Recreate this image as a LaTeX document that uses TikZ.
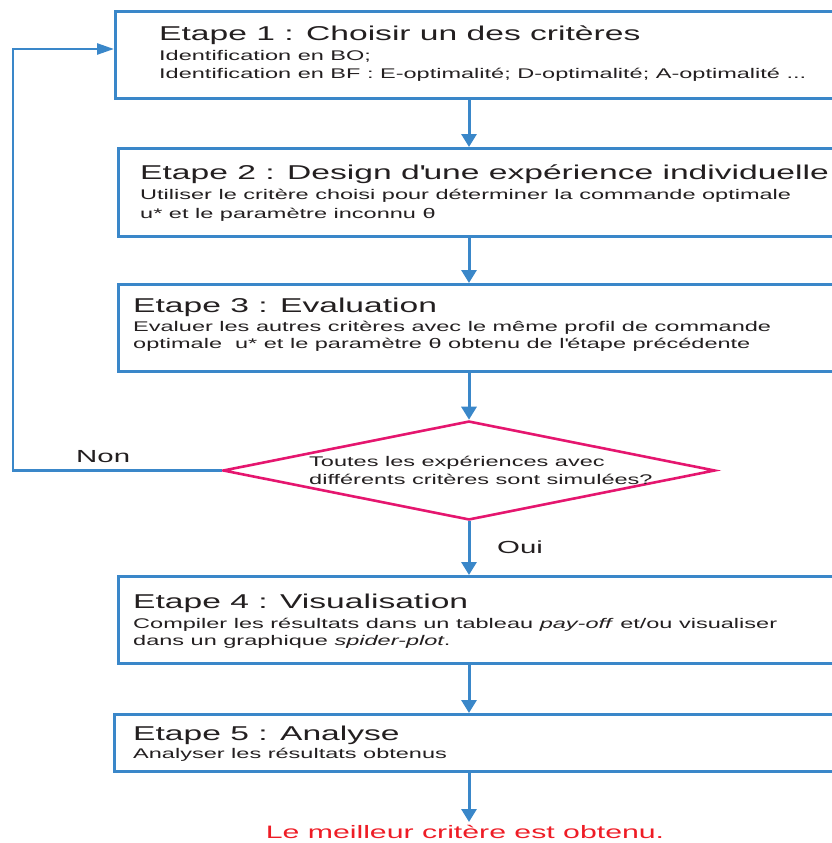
\documentclass[tikz,border=0pt]{standalone}
\usepackage{fontspec}
\setmainfont{Liberation Sans}[FakeStretch=1.68]
\usetikzlibrary{shapes.geometric,arrows.meta}
\definecolor{bl}{HTML}{3A87C9}
\definecolor{mg}{HTML}{E5166F}
\definecolor{rd}{HTML}{EE1C25}
\definecolor{tx}{HTML}{231F20}
\tikzset{
  box/.style={draw=bl, line width=3pt, anchor=north west, inner sep=0pt, minimum width=760pt},
  ttl/.style={anchor=base west, inner sep=0pt, text=tx, font=\fontsize{20}{24}\selectfont},
  sub/.style={anchor=base west, inner sep=0pt, text=tx, font=\fontsize{14}{17}\selectfont},
  lbl/.style={anchor=base west, inner sep=0pt, text=tx, font=\fontsize{17.5}{21}\selectfont},
  arr/.style={draw=bl, line width=3pt, -{Triangle[length=13pt,width=15pt]}},
  looparr/.style={draw=bl, line width=2.6pt, -{Triangle[length=17pt,width=11pt]}},
}
\begin{document}
\begin{tikzpicture}[x=1pt,y=-1pt]
\useasboundingbox (0,0) rectangle (832,843);
\clip (0,0) rectangle (832,843);
\coordinate (cx) at (469,0);
% boxes
\node[box, minimum height=86.5pt] (b1) at (114,10.5) {};
\node[box, minimum height=88pt] (b2) at (117,147) {};
\node[box, minimum height=87pt] (b3) at (117,283) {};
\node[box, minimum height=87pt] (b4) at (117,575) {};
\node[box, minimum height=57pt] (b5) at (113,713) {};
\node[draw=mg, line width=2.6pt, diamond, inner sep=0pt, minimum width=492pt, minimum height=99pt] (d) at (469,470.5) {};
% texts
\node[ttl] (t1) at (159,41) {Etape 1 : Choisir un des critères};
\node[sub] (s1a) at (159,61) {Identification en BO;};
\node[sub] (s1b) at (159,78) {Identification en BF : E-optimalité; D-optimalité; A-optimalité ...};
\node[ttl] (t2) at (140,179) {Etape 2 : Design d\textquotesingle une expérience individuelle};
\node[sub] (s2a) at (140,199) {Utiliser le critère choisi pour déterminer la commande optimale};
\node[sub] (s2b) at (140,218) {u* et le paramètre inconnu θ};
\node[ttl] (t3) at (133,312) {Etape 3 : Evaluation};
\node[sub] (s3a) at (133,331) {Evaluer les autres critères avec le même profil de commande};
\node[sub] (s3b) at (133,348) {optimale\ \ u* et le paramètre θ obtenu de l\textquotesingle étape précédente};
\node[sub] (dq1) at (309,466) {Toutes les expériences avec};
\node[sub] (dq2) at (309,484) {différents critères sont simulées?};
\node[ttl] (t4) at (133,608) {Etape 4 : Visualisation};
\node[sub] (s4a) at (133,628) {Compiler les résultats dans un tableau \textit{pay-off} et/ou visualiser};
\node[sub] (s4b) at (133,645) {dans un graphique \textit{spider-plot}.};
\node[ttl] (t5) at (133,740) {Etape 5 : Analyse};
\node[sub] (s5) at (133,758) {Analyser les résultats obtenus};
\node[lbl] (non) at (76,462) {Non};
\node[lbl] (oui) at (497,553) {Oui};
\node[anchor=base, inner sep=0pt, text=rd, font=\fontsize{18}{22}\selectfont] (res) at (465,838) {Le meilleur critère est obtenu.};
\coordinate (endtip) at (469,822);
% connectors
\draw[arr] (b1.south -| cx) -- (b2.north -| cx);
\draw[arr] (b2.south -| cx) -- (b3.north -| cx);
\draw[arr] (b3.south -| cx) -- (d.north);
\draw[arr] (d.south) -- (b4.north -| cx);
\draw[arr] (b4.south -| cx) -- (b5.north -| cx);
\draw[arr] (b5.south -| cx) -- (endtip);
\coordinate (lx) at (13,0);
\coordinate (ly) at (0,49);
\draw[looparr] (d.west) -- (d.west -| lx) -- (lx |- ly) -- (b1.west |- ly);
\end{tikzpicture}
\end{document}
